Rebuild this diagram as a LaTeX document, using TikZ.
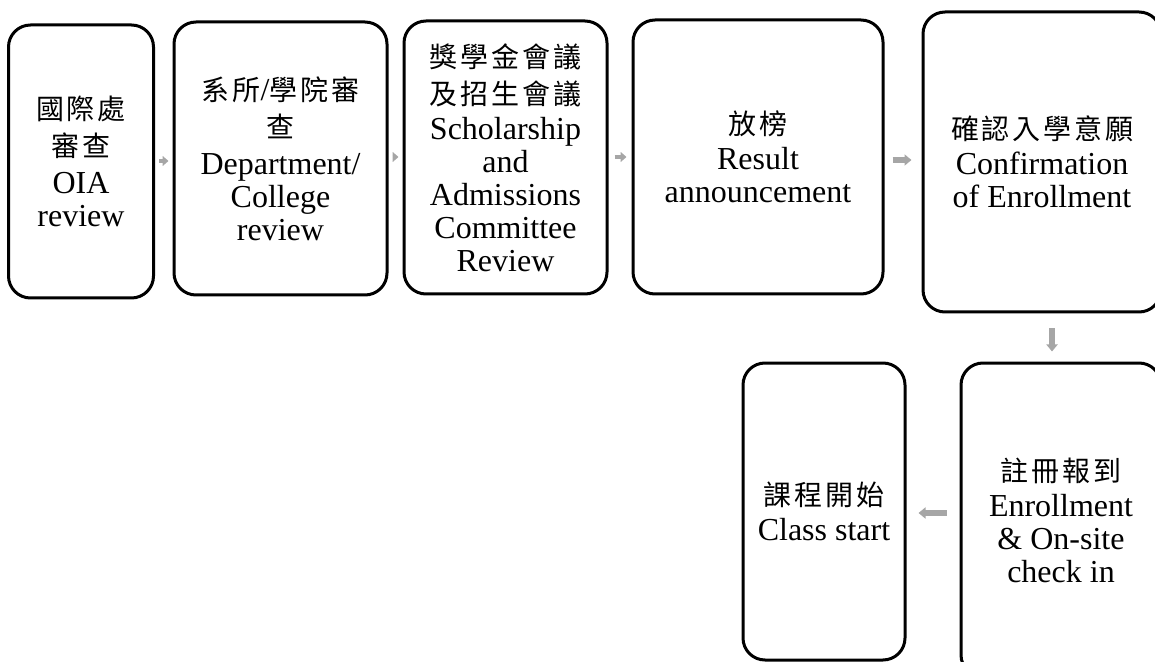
\documentclass[tikz,border=0pt]{standalone}
\usepackage{fontspec}
\setmainfont{Liberation Serif}
\newfontfamily\cjkfam[LetterSpace=10]{Noto Sans CJK TC}
\newcommand{\zh}[1]{{\cjkfam\fontsize{14pt}{16.5pt}\selectfont #1}}
\usetikzlibrary{arrows.meta,calc}
\definecolor{arrowgray}{HTML}{A6A6A6}
\tikzset{
  stepbox/.style={draw=black, line width=1.5pt, rounded corners=11pt, inner sep=0pt,
    align=center, font=\fontsize{16pt}{16.5pt}\selectfont},
  flow/.style={draw=arrowgray, line width=2.3pt, -{Triangle[length=3pt,width=5pt]}},
  bigflow/.style={draw=arrowgray, line width=2.7pt, -{Triangle[length=3.5pt,width=5.5pt]}}
}
\begin{document}
\begin{tikzpicture}[x=0.5pt,y=-0.5pt]
\useasboundingbox (0,0) rectangle (1155,662);
\clip (0,0) rectangle (1155,662);
\node[stepbox, minimum width=72.5pt, minimum height=136.5pt] (n1) at (81,161.5)
  {\zh{國際處}\\[2pt]\zh{審查}\\[2pt]OIA\\review};
\node[stepbox, minimum width=106.5pt, minimum height=136.5pt] (n2) at (280.5,158.5)
  {\zh{系所}/\zh{學院審}\\[2pt]\zh{查}\\[2pt]Department/\\College\\review};
\node[stepbox, minimum width=101.5pt, minimum height=136.5pt] (n3) at (505.5,157.5)
  {\zh{獎學金會議}\\[2pt]\zh{及招生會議}\\[1pt]Scholarship\\and\\Admissions\\Committee\\Review};
\node[stepbox, minimum width=125pt, minimum height=137pt] (n4) at (758,157)
  {\zh{放榜}\\[1pt]Result\\announcement};
\node[stepbox, minimum width=119pt, minimum height=150pt] (n5) at (1042,162)
  {\zh{確認入學意願}\\[1pt]Confirmation\\of Enrollment};
\node[stepbox, minimum width=100pt, minimum height=157pt] (n6) at (1061,520)
  {\zh{註冊報到}\\[1pt]Enrollment\\\& On-site\\check in};
\node[stepbox, minimum width=81pt, minimum height=148.5pt] (n7) at (824,511.5)
  {\zh{課程開始}\\[1pt]Class start};
\coordinate (a12) at (165,161);
\coordinate (a23) at (395,157);
\coordinate (a34) at (620,157);
\coordinate (a45) at (900,160);
\coordinate (a56) at (1052,340);
\coordinate (a67) at (930,513);
\draw[flow, shorten <=2pt, shorten >=2pt] (n1.east |- a12) -- (n2.west |- a12);
\draw[flow, shorten <=2pt, shorten >=2pt] (n2.east |- a23) -- (n3.west |- a23);
\draw[flow, shorten <=3pt, shorten >=2.5pt] (n3.east |- a34) -- (n4.west |- a34);
\draw[bigflow, shorten <=4pt, shorten >=5pt] (n4.east |- a45) -- (n5.west |- a45);
\draw[bigflow, shorten <=7.5pt, shorten >=5pt] (n5.south -| a56) -- (n6.north -| a56);
\draw[bigflow, shorten <=6.5pt, shorten >=6pt] (n6.west |- a67) -- (n7.east |- a67);
\end{tikzpicture}
\end{document}
